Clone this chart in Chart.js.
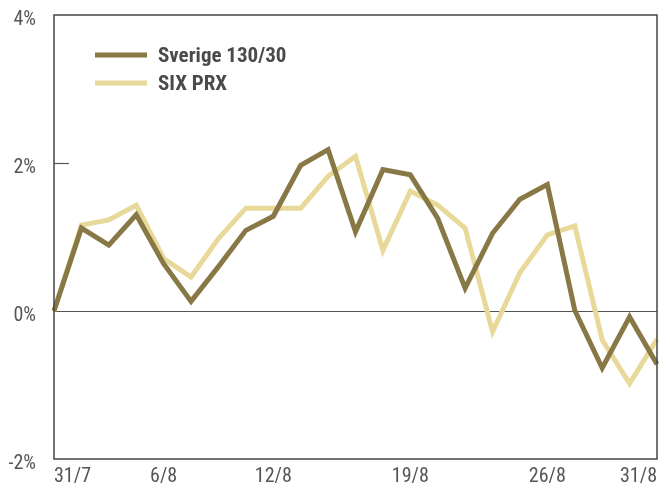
<!DOCTYPE html>
<html>
<head>
<meta charset="utf-8">
<script src="https://cdn.jsdelivr.net/npm/chart.js@4/dist/chart.umd.min.js"></script>
<style>
html,body{margin:0;padding:0;background:#fff;}
#c{display:block;}
</style>
</head>
<body>
<canvas id="c" width="670" height="488"></canvas>
<script>
// Category labels (trading days); only some are shown as tick labels
const categories = ['31/7','','','','6/8','','','','12/8','','','','','19/8','','','','','26/8','','','','31/8'];
const seriesNames = ['Sverige 130/30','SIX PRX'];
const sverige = [0,1.12,0.89,1.30,0.64,0.13,0.60,1.09,1.28,1.97,2.18,1.07,1.91,1.84,1.25,0.31,1.05,1.51,1.71,0.01,-0.77,-0.08,-0.72];
const sixprx  = [0,1.16,1.23,1.43,0.71,0.46,0.98,1.39,1.39,1.39,1.82,2.09,0.82,1.62,1.43,1.12,-0.28,0.52,1.03,1.15,-0.39,-0.98,-0.38];
const yTicks = [-2,0,2,4];

const DARK = '#887845';
const LIGHT = '#e8d99a';
const FONT = '"Roboto Condensed", "DejaVu Sans Condensed", sans-serif';

const framePlugin = {
  id: 'frame',
  beforeDatasetsDraw(chart){
    const {ctx, chartArea:a, scales:{y}} = chart;
    ctx.save();
    ctx.strokeStyle = '#555';
    ctx.lineWidth = 1.2;
    const y0 = Math.round(y.getPixelForValue(0)) + 0.5;
    ctx.beginPath(); ctx.moveTo(a.left, y0); ctx.lineTo(a.right, y0); ctx.stroke();
    const y2 = Math.round(y.getPixelForValue(2)) + 0.5;
    ctx.beginPath(); ctx.moveTo(a.left, y2); ctx.lineTo(a.left + 15, y2); ctx.stroke();
    ctx.restore();
  },
  afterDatasetsDraw(chart){
    const {ctx, chartArea:a} = chart;
    ctx.save();
    ctx.strokeStyle = '#444';
    ctx.lineWidth = 1.5;
    ctx.strokeRect(a.left, a.top, a.right - a.left, a.bottom - a.top);
    // legend
    const items = chart.data.datasets;
    items.forEach((ds, i) => {
      const ly = a.top + 40 + i * 28;
      ctx.strokeStyle = ds.borderColor;
      ctx.lineWidth = 5;
      ctx.beginPath(); ctx.moveTo(95, ly); ctx.lineTo(147, ly); ctx.stroke();
      ctx.fillStyle = '#4a4a4a';
      ctx.font = 'bold 21px ' + FONT;
      ctx.textBaseline = 'middle';
      ctx.textAlign = 'left';
      ctx.fillText(ds.label, 158, ly + 2);
    });
    ctx.restore();
  }
};

new Chart(document.getElementById('c'), {
  type: 'line',
  data: {
    labels: categories,
    datasets: [
      {label: seriesNames[0], data: sverige, borderColor: DARK, borderWidth: 5, pointRadius: 0, tension: 0, fill: false, borderJoinStyle: 'miter'},
      {label: seriesNames[1], data: sixprx, borderColor: LIGHT, borderWidth: 5, pointRadius: 0, tension: 0, fill: false, borderJoinStyle: 'miter'}
    ]
  },
  options: {
    responsive: false,
    animation: false,
    devicePixelRatio: 1,
    layout: {padding: {left: 0, right: 13, top: 15, bottom: 0}},
    plugins: {legend: {display: false}, tooltip: {enabled: false}},
    scales: {
      x: {
        grid: {display: false},
        border: {display: false},
        ticks: {
          autoSkip: false, maxRotation: 0, align: 'inner', padding: 0,
          color: '#555', font: {family: FONT, size: 20, lineHeight: 1},
          callback: (v, i) => categories[i]
        },
        afterFit(s){ s.height = 29; s.paddingLeft = 0; s.paddingRight = 0; }
      },
      y: {
        min: -2, max: 4,
        afterBuildTicks(s){ s.ticks = yTicks.map(v => ({value: v})); },
        grid: {display: false},
        border: {display: false},
        ticks: {
          color: '#555', font: {family: FONT, size: 20, lineHeight: 1}, padding: 10, labelOffset: 5,
          callback: v => v + '%'
        },
        afterFit(s){ s.width = 54; s.paddingTop = 0; s.paddingBottom = 0; }
      }
    }
  },
  plugins: [framePlugin]
});
</script>
</body>
</html>
